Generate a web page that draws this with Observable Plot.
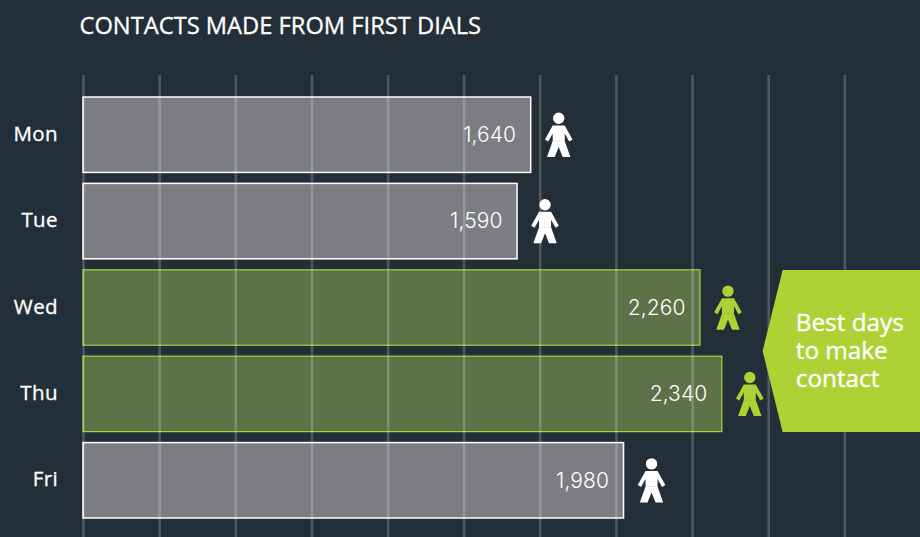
<!DOCTYPE html>
<html>
<head>
<meta charset="utf-8">
<script src="https://cdn.jsdelivr.net/npm/d3@7"></script>
<script src="https://cdn.jsdelivr.net/npm/@observablehq/plot@0.6"></script>
<style>
html,body{margin:0;padding:0;background:#232f38;overflow:hidden}
svg{display:block;overflow:visible}
.values text{letter-spacing:0.1px}
.dayname text{letter-spacing:0.4px}
</style>
</head>
<body>
<div id="chart"></div>
<script>
const days = ["Mon", "Tue", "Wed", "Thu", "Fri"];
const contacts = [1640, 1590, 2260, 2340, 1980];
const best = ["Wed", "Thu"];
const gridValues = [0, 279, 558, 837, 1116, 1394, 1673, 1952, 2231, 2510, 2789];
const chartTitle = "CONTACTS MADE FROM FIRST DIALS";
const calloutText = "Best days\nto make\ncontact";

const rows = days.map((d, i) => ({day: d, value: contacts[i], best: best.includes(d)}));
const plain = rows.filter(r => !r.best);
const high = rows.filter(r => r.best);

const BG = "#232f38", GREEN = "#aed136";

const person = {
  draw(c) {
    c.moveTo(5.7, -16.9); c.arc(0, -16.9, 5.7, 0, 2 * Math.PI);
    c.moveTo(-6, -9.8); c.lineTo(6, -9.8);
    c.lineTo(13.8, 4.2); c.lineTo(10.5, 6.2); c.lineTo(6, -1.8);
    c.lineTo(6, 5.7); c.lineTo(11.7, 21.7); c.lineTo(4, 21.7);
    c.lineTo(0, 11.7); c.lineTo(-4, 21.7); c.lineTo(-11.7, 21.7);
    c.lineTo(-6, 5.7); c.lineTo(-6, -1.8); c.lineTo(-10.5, 6.2); c.lineTo(-13.8, 4.2);
    c.closePath();
  }
};
const waist = {draw(c) { c.moveTo(-6, 5.7); c.lineTo(6, 5.7); }};
const calloutShape = {
  draw(c) {
    c.moveTo(0, -81); c.lineTo(140, -81); c.lineTo(140, 81); c.lineTo(0, 81);
    c.lineTo(-20, 0); c.closePath();
  }
};

const plot = Plot.plot({
  width: 920, height: 537,
  marginTop: 75, marginRight: 0, marginBottom: 0, marginLeft: 0,
  style: {background: BG, fontFamily: "'Open Sans', sans-serif", overflow: "visible"},
  x: {domain: [0, 3066], range: [83, 920], axis: null},
  y: {domain: days, range: [97, 518], paddingInner: 0.127, paddingOuter: 0, align: 0, round: false, axis: null},
  marks: [
    Plot.barX(plain, {x: "value", y: "day", fill: "#7c7d82", stroke: "#ffffff", strokeWidth: 1.5}),
    Plot.barX(high, {x: "value", y: "day", fill: "#5d7347", stroke: GREEN, strokeWidth: 1.2}),
    Plot.ruleX(gridValues, {x: d => d, stroke: "#ffffff", strokeOpacity: 0.2, strokeWidth: 2.6}),
    Plot.text(rows, {x: 0, y: "day", text: "day", textAnchor: "end", dx: -25.5, dy: -1, fill: "#fff", stroke: "#fff", strokeWidth: 0.3, fontSize: 20.5, fontWeight: 400, className: "dayname"}),
    Plot.text(rows, {x: "value", y: "day", text: d => d3.format(",")(d.value), textAnchor: "end", dx: -15, dy: 0, fill: "#fff", fontSize: 21, fontWeight: 300, fontFamily: "Inter", className: "values"}),
    Plot.dot(plain, {x: "value", y: "day", symbol: person, r: 1, fill: "#fff", dx: 27.5}),
    Plot.dot(plain, {x: "value", y: "day", symbol: waist, r: 1, fill: "none", stroke: "#d8d8d8", strokeWidth: 0.6, dx: 27.5}),
    Plot.dot(high, {x: "value", y: "day", symbol: person, r: 1, fill: GREEN, dx: 27.5}),
    Plot.dot(high, {x: "value", y: "day", symbol: waist, r: 1, fill: "none", stroke: "#98b631", strokeWidth: 0.6, dx: 27.5}),
    Plot.dot([2561], {x: d => d, y: () => "Wed", symbol: calloutShape, fill: GREEN, r: 1, dy: 43}),
    Plot.text([calloutText], {x: 2609, y: () => "Wed", text: d => d, textAnchor: "start", lineHeight: 1.15, fill: "#fff", stroke: "#fff", strokeWidth: 0.35, fontSize: 24.3, fontWeight: 400, dy: 42}),
    Plot.text([chartTitle], {frameAnchor: "top-left", lineAnchor: "middle", text: d => d, dx: 79, dy: -49, fill: "#fff", stroke: "#fff", strokeWidth: 0.3, fontSize: 23.7, fontWeight: 400})
  ]
});
document.getElementById("chart").append(plot);
</script>
</body>
</html>
